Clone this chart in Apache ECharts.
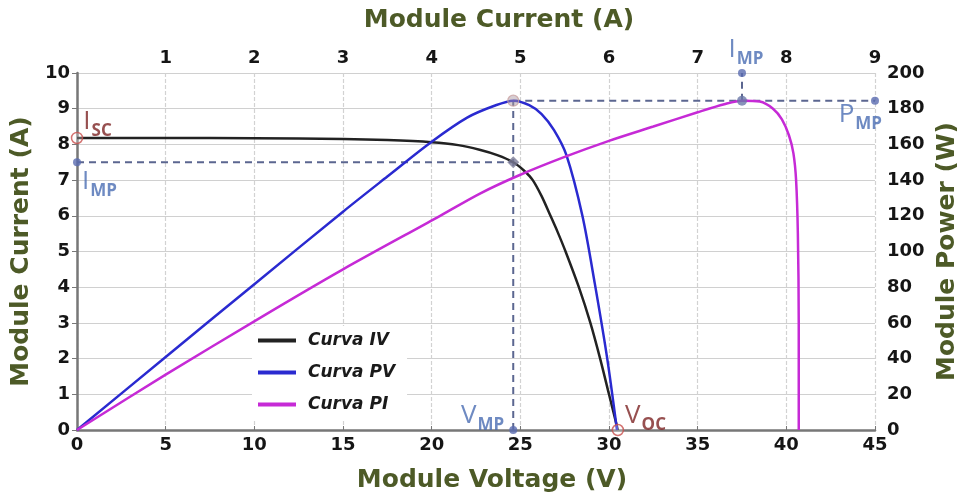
<!DOCTYPE html>
<html>
<head>
<meta charset="utf-8">
<script src="https://cdn.jsdelivr.net/npm/echarts@6/dist/echarts.min.js"></script>
<style>
  html, body { margin: 0; padding: 0; background: #fff; }
  #chart { width: 957px; height: 492px; }
</style>
</head>
<body>
<div id="chart"></div>
<script>
// curva IV: [voltage V, current A]
const ivCurve = [
  [0, 8.18], [5, 8.18], [10, 8.17], [15, 8.15], [17.5, 8.12], [20, 8.06],
  [21.5, 7.98], [22.7, 7.85], [23.7, 7.7], [24.6, 7.5], [25.2, 7.27], [25.7, 7.0],
  [26.2, 6.55], [26.7, 6.0], [27.1, 5.55], [27.55, 5.0], [28.3, 4.0], [28.95, 3.0],
  [29.5, 2.0], [30.0, 1.0], [30.5, 0]
];
// curva PV: [voltage V, power W]
const pvCurve = [
  [0, 0], [5, 40.9], [10, 81.7], [15, 122.3], [17.5, 142], [20, 161.5],
  [22, 175], [23.5, 181.5], [24.6, 184.5], [25.5, 182], [26.2, 177], [26.9, 168],
  [27.6, 154], [28.5, 120], [29.2, 82], [29.9, 40], [30.45, 0]
];
// curva PI: [current A, power W]
const piCurve = [
  [0, 0], [1, 31], [2.06, 62.7], [3, 90], [4.06, 119], [4.55, 132.6],
  [5, 143], [5.5, 153], [6, 162], [6.5, 170], [7, 178], [7.3, 182.5],
  [7.5, 184.5], [7.7, 184], [7.85, 180], [7.95, 174], [8.03, 165], [8.08, 155],
  [8.11, 140], [8.13, 110], [8.14, 60], [8.14, 0]
];

const voltageTicks = [0, 45, 5];
const currentTopTicks = [0, 9, 1];
const currentLeftTicks = [0, 10, 1];
const powerTicks = [0, 200, 20];

// puntos notables
const ISC = 8.18, VOC = 30.5, VMP = 24.6, IMP = 7.5, PMP = 184.5;

const FONT = 'DejaVu Sans';
const green = '#4d5a27';
const blueTxt = '#4a6db3';
const redTxt = '#7d2424';
const dashCol = '#5b6690';

function sub(main, s, color) {
  return {
    show: true,
    formatter: '{a|' + main + '}{b|' + s + '}',
    rich: {
      a: { fontFamily: 'Open Sans', fontSize: 26, fontWeight: 'normal', color: color, verticalAlign: 'bottom', padding: [0, 1, 5, 0] },
      b: { fontFamily: 'Open Sans', fontSize: 17, fontWeight: 'bold', color: color, verticalAlign: 'bottom' }
    }
  };
}

function mark(xi, yi, pt, sym, size, style, label) {
  return {
    type: 'scatter', xAxisIndex: xi, yAxisIndex: yi, data: [pt],
    symbol: sym, symbolSize: size, itemStyle: style, z: 6,
    label: label || { show: false }, silent: true
  };
}

function dash(xi, yi, pts) {
  return {
    type: 'line', xAxisIndex: xi, yAxisIndex: yi, data: pts, showSymbol: false, z: 4,
    lineStyle: { color: dashCol, width: 2, type: [7, 5] }, silent: true
  };
}

function curve(name, xi, yi, pts, col) {
  return {
    name: name, type: 'line', xAxisIndex: xi, yAxisIndex: yi, data: pts,
    showSymbol: false, smooth: 0.3, z: 5, color: col,
    lineStyle: { color: col, width: 2.5 }
  };
}

const axisLbl = { fontFamily: FONT, fontSize: 18, fontWeight: 'bold', color: '#151515' };
const nameSty = { fontFamily: FONT, fontSize: 25, fontWeight: 'bold', color: green };

const chart = echarts.init(document.getElementById('chart'));
chart.setOption({
  animation: false,
  backgroundColor: '#fff',
  grid: { left: 77, right: 82, top: 73, bottom: 62, outerBoundsMode: 'none' },
  legend: {
    orient: 'vertical', left: 252, top: 326,
    itemWidth: 38, itemHeight: 4, itemGap: 15,
    backgroundColor: '#fff', padding: [6, 12, 6, 6],
    icon: 'rect',
    textStyle: { fontFamily: FONT, fontSize: 17, fontWeight: 'bold', fontStyle: 'italic', color: '#1a1a1a', padding: [0, 0, 0, 7] },
    data: ['Curva IV', 'Curva PV', 'Curva PI']
  },
  xAxis: [
    {
      type: 'value', position: 'bottom', min: voltageTicks[0], max: voltageTicks[1], interval: voltageTicks[2],
      name: 'Module Voltage (V)', nameLocation: 'middle', nameGap: 38,
      nameTextStyle: Object.assign({ padding: [0, 0, 0, 32] }, nameSty),
      axisLine: { show: true, lineStyle: { color: '#777', width: 2.5 } },
      axisTick: { show: true, inside: true, length: 4, lineStyle: { color: '#777' } },
      axisLabel: Object.assign({ margin: 6 }, axisLbl),
      splitLine: { show: true, lineStyle: { color: '#d2d2d2', width: 1.2, type: [4, 2] } }
    },
    {
      type: 'value', position: 'top', min: currentTopTicks[0], max: currentTopTicks[1], interval: currentTopTicks[2],
      name: 'Module Current (A)', nameLocation: 'middle', nameGap: 40,
      nameTextStyle: Object.assign({ padding: [0, 0, 0, 46] }, nameSty),
      axisLine: { show: false }, axisTick: { show: false },
      axisLabel: Object.assign({ margin: 6, formatter: v => v === 0 ? '' : String(v) }, axisLbl),
      splitLine: { show: false }
    }
  ],
  yAxis: [
    {
      type: 'value', position: 'left', min: currentLeftTicks[0], max: currentLeftTicks[1], interval: currentLeftTicks[2],
      name: 'Module Current (A)', nameLocation: 'middle', nameGap: 40, nameTextStyle: nameSty,
      axisLine: { show: true, lineStyle: { color: '#777', width: 2.5 } },
      axisTick: { show: true, length: 5, lineStyle: { color: '#777' } },
      axisLabel: Object.assign({ margin: 7 }, axisLbl),
      splitLine: { show: true, lineStyle: { color: '#d0d0d0', width: 1.2 } }
    },
    {
      type: 'value', position: 'right', min: powerTicks[0], max: powerTicks[1], interval: powerTicks[2],
      name: 'Module Power (W)', nameLocation: 'middle', nameGap: 55, nameTextStyle: nameSty,
      axisLine: { show: false }, axisTick: { show: false },
      axisLabel: Object.assign({ margin: 12 }, axisLbl),
      splitLine: { show: false }
    }
  ],
  series: [
    dash(0, 0, [[0, IMP], [VMP, IMP]]),
    dash(0, 1, [[VMP, 0], [VMP, PMP]]),
    dash(0, 1, [[VMP, PMP], [voltageTicks[1], PMP]]),
    dash(1, 1, [[IMP, PMP], [IMP, powerTicks[1]]]),
    curve('Curva IV', 0, 0, ivCurve, '#222'),
    curve('Curva PV', 0, 1, pvCurve, '#2a2ad0'),
    curve('Curva PI', 1, 1, piCurve, '#c62ad6'),
    // Isc
    mark(0, 0, [0, ISC], 'circle', 11, { color: 'rgba(255,255,255,0.3)', borderColor: '#c9504d', borderWidth: 1.5 },
      Object.assign(sub('I', 'SC', redTxt), { position: 'right', offset: [-5, -14] })),
    // Imp on left axis
    mark(0, 0, [0, IMP], 'circle', 8, { color: '#5a6cb0' },
      Object.assign(sub('I', 'MP', blueTxt), { position: 'right', offset: [-4, 22] })),
    // Vmp / Imp intersection
    mark(0, 0, [VMP, IMP], 'diamond', 12, { color: '#7a7a96' }),
    // PV peak
    mark(0, 1, [VMP, PMP], 'circle', 11, { color: 'rgba(170,150,160,0.6)', borderColor: '#c8a0a0', borderWidth: 1.2 }),
    // Vmp on bottom axis
    mark(0, 1, [VMP, 0], 'circle', 8, { color: '#5a6cb0' },
      Object.assign(sub('V', 'MP', blueTxt), { position: 'left', offset: [0, -12] })),
    // Voc
    mark(0, 1, [VOC, 0], 'circle', 11, { color: 'rgba(255,255,255,0.3)', borderColor: '#c9504d', borderWidth: 1.5 },
      Object.assign(sub('V', 'OC', redTxt), { position: 'right', offset: [-4, -12] })),
    // PI peak
    mark(1, 1, [IMP, PMP], 'circle', 10, { color: '#6a78a8' }),
    // Imp on top axis
    mark(1, 1, [IMP, powerTicks[1]], 'circle', 8, { color: '#5a6cb0' },
      Object.assign(sub('I', 'MP', blueTxt), { position: 'top', offset: [4, 4] })),
    // Pmp on right edge
    mark(0, 1, [voltageTicks[1], PMP], 'circle', 8, { color: '#5a6cb0' },
      Object.assign(sub('P', 'MP', blueTxt), { position: 'left', offset: [16, 16] }))
  ]
});
</script>
</body>
</html>
